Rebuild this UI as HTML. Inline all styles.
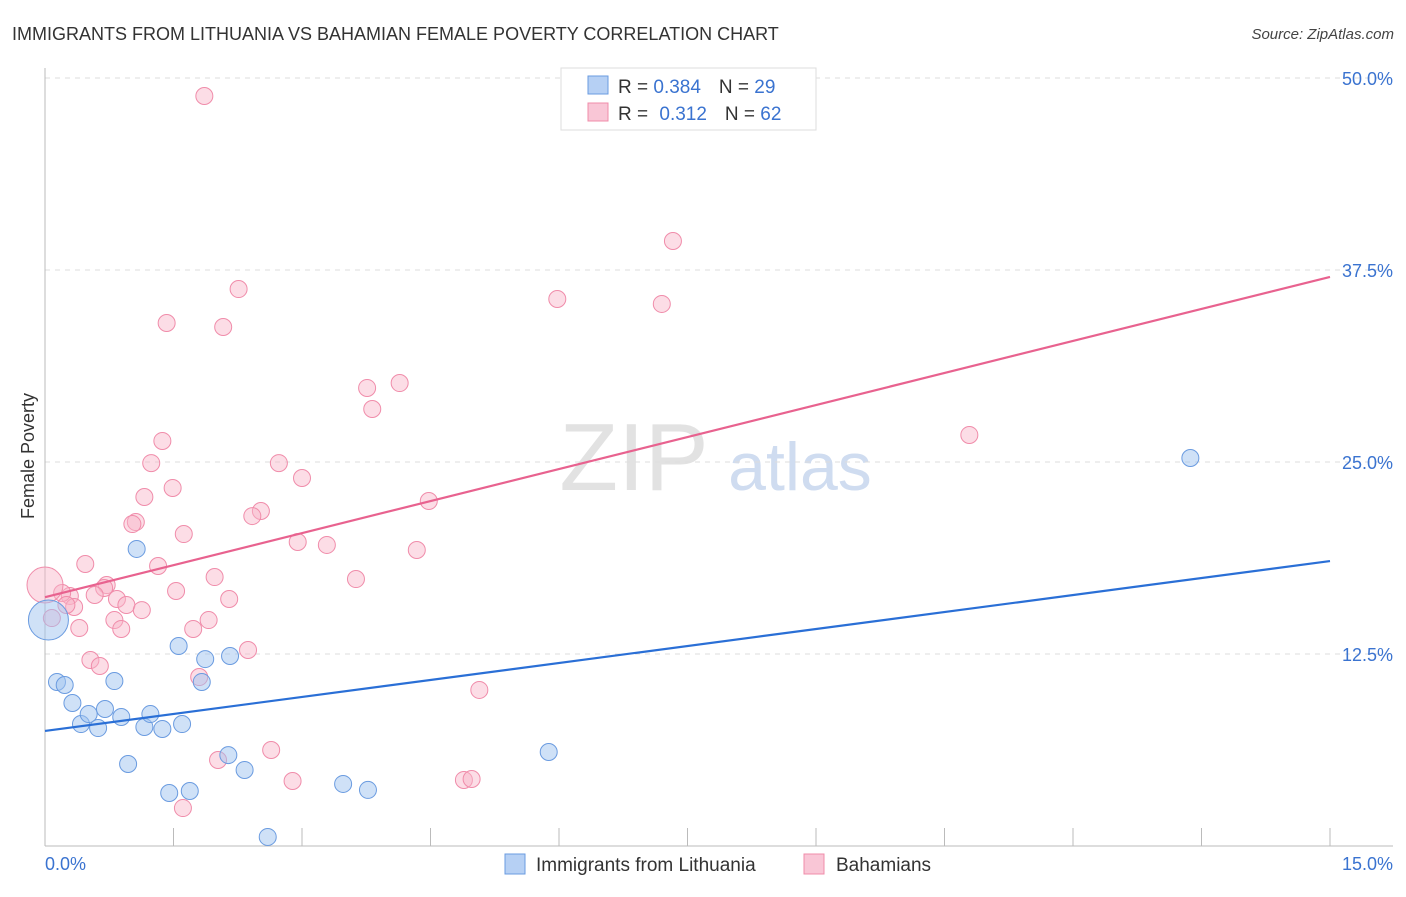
<!DOCTYPE html>
<html><head><meta charset="utf-8"><style>
body{margin:0;background:#fff;font-family:"Liberation Sans",sans-serif}
svg text{font-family:"Liberation Sans",sans-serif}
</style></head><body>
<svg id="chart" width="1406" height="892">
<text x="12" y="40" font-size="18" fill="#333">IMMIGRANTS FROM LITHUANIA VS BAHAMIAN FEMALE POVERTY CORRELATION CHART</text>
<text x="1394" y="39" font-size="15" fill="#444" font-style="italic" text-anchor="end">Source: ZipAtlas.com</text>
<text x="634" y="490" font-size="96" fill="#e2e2e2" font-family="Liberation Serif" text-anchor="middle">ZIP</text>
<text x="800" y="490" font-size="68" fill="#cfdcf0" text-anchor="middle">atlas</text>
<g id="grid"></g>
<g id="axes"></g>
<g id="marks"></g>
<text transform="translate(34,456) rotate(-90)" font-size="18" fill="#333" text-anchor="middle">Female Poverty</text>
<text x="45" y="870" font-size="18" fill="#3a73d0">0.0%</text>
<text x="1393" y="870" font-size="18" fill="#3a73d0" text-anchor="end">15.0%</text>
<g>
<rect x="561" y="68" width="255" height="62" fill="#fff" stroke="#ddd"/>
<rect x="588" y="76" width="20" height="18" fill="#b6d0f4" stroke="#6a9be0"/>
<rect x="588" y="103" width="20" height="18" fill="#f9c6d6" stroke="#f08caa"/>
<text x="618" y="93" font-size="19" fill="#333">R = <tspan fill="#3a73d0">0.384</tspan><tspan dx="18">N = </tspan><tspan fill="#3a73d0">29</tspan></text>
<text x="618" y="120" font-size="19" fill="#333">R = <tspan dx="6" fill="#3a73d0">0.312</tspan><tspan dx="18">N = </tspan><tspan fill="#3a73d0">62</tspan></text>
</g>
<g>
<rect x="505" y="854" width="20" height="20" fill="#b6d0f4" stroke="#6a9be0"/>
<text x="536" y="871" font-size="19" fill="#333">Immigrants from Lithuania</text>
<rect x="804" y="854" width="20" height="20" fill="#f9c6d6" stroke="#f08caa"/>
<text x="836" y="871" font-size="19" fill="#333">Bahamians</text>
</g>
</svg>
<script>
const yTicks=[12.5,25,37.5,50];
const yTickLabels=["12.5%","25.0%","37.5%","50.0%"];
const xTicks=[1.5,3,4.5,6,7.5,9,10.5,12,13.5,15];
const blueX=[1.07,0.14,0.23,0.32,0.42,0.51,0.62,0.70,0.81,0.89,0.97,1.16,1.23,1.37,1.45,1.56,1.60,1.69,1.83,1.87,2.14,2.16,2.33,2.60,3.48,3.77,5.88,13.37];
const blueY=[19.34,10.68,10.48,9.31,7.94,8.59,7.68,8.92,10.74,8.40,5.34,7.75,8.59,7.62,3.45,13.02,7.94,3.58,10.68,12.17,5.92,12.37,4.95,0.59,4.04,3.65,6.12,25.26];
const blueBig=[0.04,14.71];
const pinkX=[1.86,7.33,2.26,5.98,7.20,1.42,2.08,4.14,3.76,3.82,10.79,1.37,1.24,2.73,1.49,3.00,1.16,4.48,2.52,2.42,1.06,1.02,1.62,2.95,3.29,4.34,0.47,1.32,1.98,3.63,0.72,0.69,1.53,0.58,2.15,0.84,0.29,0.20,0.34,0.95,1.13,0.81,1.91,0.40,0.89,1.73,2.37,0.53,0.64,1.80,5.07,2.64,2.02,2.89,4.89,4.98,1.61,0.08,0.25];
const pinkY=[48.83,39.39,36.26,35.61,35.29,34.05,33.79,30.14,29.82,28.45,26.76,26.37,24.93,24.93,23.31,23.96,22.72,22.46,21.81,21.48,21.09,20.96,20.31,19.79,19.60,19.27,18.36,18.23,17.51,17.38,16.99,16.80,16.60,16.34,16.08,16.08,16.28,16.47,15.56,15.69,15.36,14.71,14.71,14.19,14.13,14.13,12.76,12.11,11.72,11.00,10.16,6.25,5.60,4.23,4.30,4.36,2.47,14.84,15.69];
const pinkBig=[0.0,16.99];
const blueTrend=[7.49,18.55];
const pinkTrend=[16.2,37.05];
const xDomain=[0,15];
const NS="http://www.w3.org/2000/svg";
function sx(v){return 45+(v-xDomain[0])/(xDomain[1]-xDomain[0])*1285;}
function sy(v){return 846-v*15.36;}
function mk(tag,attrs,parent){const e=document.createElementNS(NS,tag);for(const k in attrs)e.setAttribute(k,attrs[k]);document.getElementById(parent).appendChild(e);return e;}
yTicks.forEach((t,i)=>{
const l=mk('line',{x1:45,x2:1393,y1:sy(t),y2:sy(t),stroke:'#ddd','stroke-dasharray':'5,5'},'grid');


const tx=mk('text',{x:1393,y:sy(t)+7,'font-size':18,fill:'#3a73d0','text-anchor':'end'},'grid');
tx.textContent=yTickLabels[i];


});
const ya=mk('line',{x1:45,x2:45,y1:68,y2:846,stroke:'#bbb'},'axes');


const xa=mk('line',{x1:45,x2:1393,y1:846,y2:846,stroke:'#bbb'},'axes');


xTicks.forEach(t=>{
const l=mk('line',{x1:sx(t),x2:sx(t),y1:828,y2:846,stroke:'#bbb'},'axes');


});
function dot(x,y,r,blue,name){
const c=mk('circle',{cx:sx(x),cy:sy(y),r:r,fill:blue?'rgba(160,196,240,0.5)':'rgba(248,180,200,0.45)',stroke:blue?'#6a9be0':'#f08caa','stroke-width':1},'marks');


}
pinkX.forEach((x,i)=>dot(x,pinkY[i],8.5,false,'bahamians-point'));
dot(pinkBig[0],pinkBig[1],18,false,'bahamians-point-large');
blueX.forEach((x,i)=>dot(x,blueY[i],8.5,true,'lithuania-point'));
dot(blueBig[0],blueBig[1],20,true,'lithuania-point-large');
const pl=mk('line',{x1:sx(0),y1:sy(pinkTrend[0]),x2:sx(15),y2:sy(pinkTrend[1]),stroke:'#e8628f','stroke-width':2.2},'marks');


const bl=mk('line',{x1:sx(0),y1:sy(blueTrend[0]),x2:sx(15),y2:sy(blueTrend[1]),stroke:'#2a6fd6','stroke-width':2.2},'marks');


</script>
</body></html>
